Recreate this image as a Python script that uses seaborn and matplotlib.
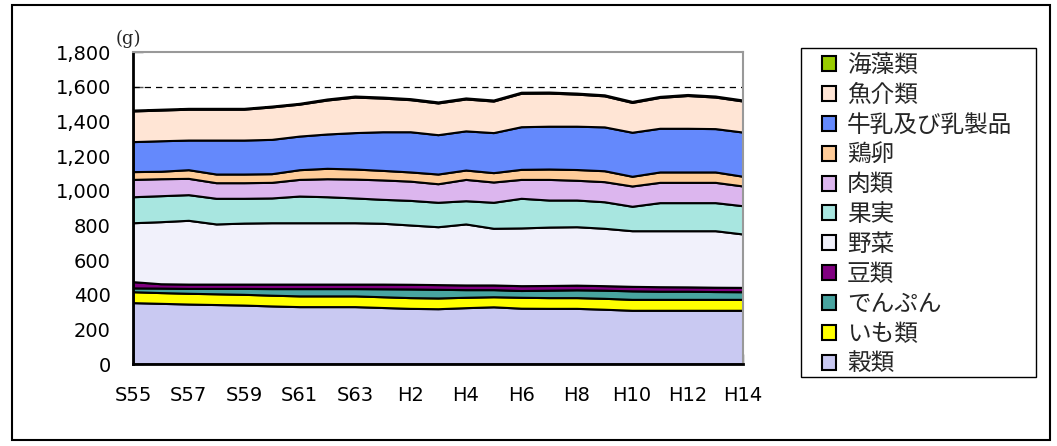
import numpy as np
import pandas as pd
import matplotlib
matplotlib.use("Agg")
import matplotlib.pyplot as plt
import seaborn as sns
from matplotlib.patches import Patch, Rectangle
from matplotlib.ticker import FuncFormatter, FixedLocator

# ---------------- data ----------------
years = ["S55", "S56", "S57", "S58", "S59", "S60", "S61", "S62", "S63",
         "H1", "H2", "H3", "H4", "H5", "H6", "H7", "H8", "H9", "H10",
         "H11", "H12", "H13", "H14"]

cereals = [354, 350, 346, 343, 340, 335, 331, 331, 331, 326, 321, 319,
           325, 330, 322, 321, 321, 316, 310, 310, 310, 310, 310]
potatoes = [63, 62, 62, 62, 62, 62, 62, 62, 62, 62, 62, 62,
            60, 58, 63, 62, 62, 63, 63, 63, 63, 63, 63]
starch = [22, 26, 28, 31, 34, 38, 42, 42, 42, 46, 50, 50,
          44, 41, 39, 43, 45, 47, 49, 47, 47, 45, 44]
beans = [36, 25, 25, 25, 25, 26, 26, 26, 26, 27, 27, 27,
         27, 27, 28, 27, 27, 26, 26, 26, 25, 25, 25]
vegetables = [340, 358, 368, 347, 352, 354, 354, 354, 354, 351, 342, 334,
              352, 327, 333, 337, 337, 331, 321, 323, 324, 326, 308]
fruits = [150, 150, 148, 148, 143, 143, 154, 150, 143, 138, 142, 141,
          134, 150, 171, 156, 154, 153, 141, 162, 162, 162, 163]
meat = [100, 98, 94, 90, 90, 90, 96, 104, 109, 112, 111, 107,
        123, 117, 109, 119, 114, 116, 117, 117, 117, 117, 114]
eggs = [45, 43, 50, 50, 50, 50, 56, 60, 58, 55, 53, 56,
        54, 54, 58, 60, 62, 63, 56, 60, 60, 60, 56]
milk = [173, 176, 171, 196, 196, 198, 194, 198, 210, 223, 232, 227,
        226, 231, 246, 247, 250, 253, 254, 252, 252, 250, 255]
fish = [177, 177, 178, 178, 178, 187, 184, 196, 205, 194, 185, 183,
        184, 182, 193, 191, 185, 179, 172, 178, 189, 182, 179]
seaweed = [5, 5, 5, 5, 5, 5, 5, 6, 6, 6, 6, 6,
           6, 6, 6, 6, 6, 6, 6, 6, 6, 6, 6]

series_names = ["穀類", "いも類", "でんぷん", "豆類", "野菜", "果実",
                "肉類", "鶏卵", "牛乳及び乳製品", "魚介類", "海藻類"]
series_values = [cereals, potatoes, starch, beans, vegetables, fruits,
                 meat, eggs, milk, fish, seaweed]
colors = ["#c9c9f2", "#ffff00", "#48a4a0", "#800080", "#f1f1fb", "#a8e6e0",
          "#dcb6ee", "#ffcc99", "#6489fc", "#ffe5d5", "#99cc00"]

y_ticks = [0, 200, 400, 600, 800, 1000, 1200, 1400, 1600, 1800]
ref_line = 1600

# ---------------- style ----------------
sns.set_theme(style="white")
plt.rcParams["font.family"] = ["DejaVu Sans", "Noto Sans CJK JP"]

W, H = 1057, 446
fig = plt.figure(figsize=(W / 100, H / 100), dpi=100)
fig.patch.set_facecolor("white")

left, right, top, bottom = 133, 743, 52, 364
ax = fig.add_axes([left / W, (H - bottom) / H, (right - left) / W, (bottom - top) / H])
ax.set_facecolor("white")

df = pd.DataFrame({n: v for n, v in zip(series_names, series_values)})
df["x"] = np.arange(len(years))

ax.stackplot(df["x"], *[df[n] for n in series_names], colors=colors,
             edgecolor="black", linewidth=1.5, zorder=2)

ax.axhline(ref_line, color="black", linestyle=(0, (5, 4)), linewidth=0.9, zorder=1)

ax.set_xlim(0, len(years) - 1)
ax.set_ylim(0, 1800)
ax.set_yticks(y_ticks)
ax.yaxis.set_major_formatter(FuncFormatter(lambda v, p: f"{int(v):,}"))
ax.xaxis.set_major_locator(FixedLocator(np.arange(len(years))))
ax.set_xticklabels([y if i % 2 == 0 else "" for i, y in enumerate(years)])

ax.tick_params(axis="y", direction="in", length=7, width=1, color="#555555",
               labelsize=14, pad=16, left=True, labelcolor="black")
ax.tick_params(axis="x", direction="in", length=7, width=1, color="#555555",
               labelsize=14, pad=16, bottom=True, labelcolor="black")

for side in ["left", "bottom"]:
    ax.spines[side].set_color("black")
    ax.spines[side].set_linewidth(2.0)
for side in ["top", "right"]:
    ax.spines[side].set_color("#999999")
    ax.spines[side].set_linewidth(1.5)
ax.spines["bottom"].set_zorder(5)
ax.grid(False)

fig.text(128 / W, 1 - 39 / H, "(g)", ha="center", va="center", fontsize=13,
         family=["DejaVu Serif"])

# legend (top-most series first)
handles = [Patch(facecolor=c, edgecolor="black", linewidth=1.5)
           for c in colors[::-1]]
leg = fig.legend(handles, series_names[::-1], loc="upper left",
                 bbox_to_anchor=(822 / W, 1 - 54 / H), frameon=False,
                 borderpad=0, borderaxespad=0, handlelength=0.6,
                 handleheight=0.6, handletextpad=0.45, labelspacing=0.29,
                 prop={"family": ["Noto Sans CJK JP", "DejaVu Sans"], "size": 17})

fig.patches.append(Rectangle((801 / W, 1 - 377 / H), (1036 - 801) / W, (377 - 48) / H,
                             transform=fig.transFigure, fill=False,
                             edgecolor="black", linewidth=1.0))
fig.patches.append(Rectangle((12 / W, 1 - 440 / H), (1050 - 12) / W, (440 - 5) / H,
                             transform=fig.transFigure, fill=False,
                             edgecolor="black", linewidth=1.5))

fig.savefig("out.png", dpi=100, facecolor="white")
